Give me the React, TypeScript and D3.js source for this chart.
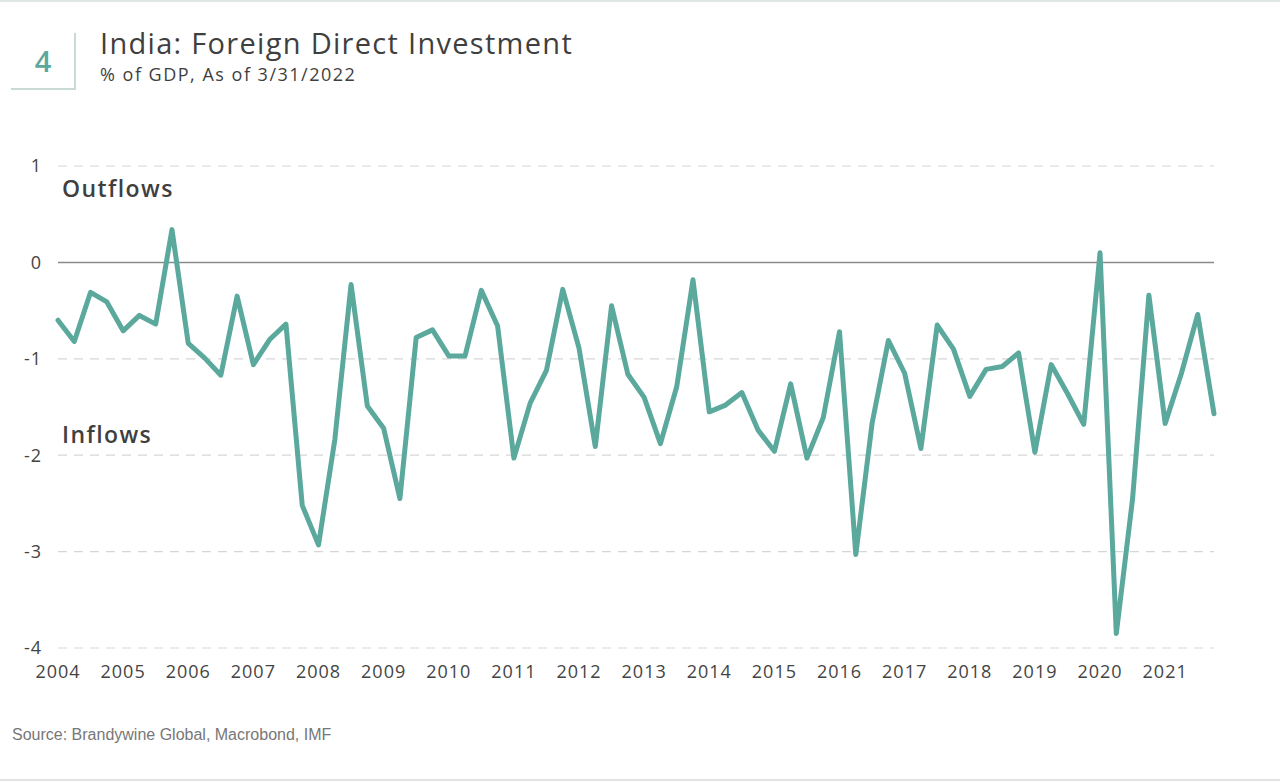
import React from "react";
import * as d3 from "d3";

const startYear = 2004;
const fdiValues: number[] = [
  -0.60, -0.82, -0.31, -0.41, -0.71, -0.55, -0.64, 0.34,
  -0.84, -0.99, -1.17, -0.35, -1.06, -0.80, -0.64, -2.52,
  -2.93, -1.84, -0.23, -1.49, -1.72, -2.45, -0.78, -0.70,
  -0.97, -0.97, -0.29, -0.66, -2.03, -1.46, -1.12, -0.28,
  -0.89, -1.91, -0.45, -1.16, -1.40, -1.88, -1.29, -0.18,
  -1.55, -1.48, -1.35, -1.74, -1.96, -1.26, -2.03, -1.61,
  -0.72, -3.03, -1.67, -0.81, -1.15, -1.93, -0.65, -0.90,
  -1.39, -1.11, -1.08, -0.94, -1.97, -1.06, -1.36, -1.68,
  0.10, -3.85, -2.45, -0.34, -1.67, -1.15, -0.54, -1.57,
];
const yTicks: number[] = [1, 0, -1, -2, -3, -4];
const yearTicks: number[] = d3.range(2004, 2022);

const W = 1280;
const H = 782;
const left = 58;
const right = 1214;
const top = 166;
const bottom = 648;

const TEAL = "#5ba89d";
const FONT = "'Open Sans', 'Noto Sans', sans-serif";

export default function App() {
  const data = fdiValues.map((v, i) => ({ t: startYear + i / 4, v }));
  const x = d3.scaleLinear().domain([startYear, startYear + (fdiValues.length - 1) / 4]).range([left, right]);
  const y = d3.scaleLinear().domain([1, -4]).range([top, bottom]);
  const line = d3.line<{ t: number; v: number }>().x((d) => x(d.t)).y((d) => y(d.v));

  return (
    <svg width={W} height={H} style={{ position: "absolute", left: 0, top: 0, background: "#fff" }}>
      <line x1={0} x2={W} y1={1} y2={1} stroke="#dfe6e4" strokeWidth={2} />
      <line x1={0} x2={W} y1={780} y2={780} stroke="#e2e2e2" strokeWidth={2} />
      {/* number box */}
      <line x1={75} x2={75} y1={33} y2={89} stroke="#c9d9d4" strokeWidth={2} />
      <line x1={11} x2={76} y1={89} y2={89} stroke="#c9d9d4" strokeWidth={2} />
      <text x={43} y={72} textAnchor="middle" fill={TEAL} fontFamily={FONT} fontSize={29} fontWeight={600}>4</text>
      <text x={100} y={54} fill="#3f3f3f" fontFamily={FONT} fontSize={29} fontWeight={500} letterSpacing={1.3}>India: Foreign Direct Investment</text>
      <text x={100} y={81} fill="#3f3f3f" fontFamily={FONT} fontSize={18} letterSpacing={1.5}>% of GDP, As of 3/31/2022</text>

      {yTicks.map((t) => (
        <g key={t}>
          <line
            x1={left}
            x2={right}
            y1={y(t)}
            y2={y(t)}
            stroke={t === 0 ? "#8a8a8a" : "#d6d6d6"}
            strokeWidth={t === 0 ? 1.5 : 1.2}
            strokeDasharray={t === 0 ? undefined : "9,7"}
          />
          <text x={42} y={y(t)} dy="0.35em" textAnchor="end" fill="#444" fontFamily={FONT} fontSize={18} letterSpacing={1}>
            {t}
          </text>
        </g>
      ))}

      {yearTicks.map((yr) => (
        <text key={yr} x={x(yr)} y={678} textAnchor="middle" fill="#444" fontFamily={FONT} fontSize={18} letterSpacing={1}>
          {yr}
        </text>
      ))}

      <text x={62} y={197} fill="#3f3f3f" fontFamily={FONT} fontSize={23} fontWeight={600} letterSpacing={1.4}>Outflows</text>
      <text x={62} y={443} fill="#3f3f3f" fontFamily={FONT} fontSize={23} fontWeight={600} letterSpacing={1.4}>Inflows</text>

      <path d={line(data) || ""} fill="none" stroke={TEAL} strokeWidth={5} strokeLinejoin="round" strokeLinecap="round" />

      <text x={12} y={740} fill="#777" fontFamily="'Liberation Sans Narrow', 'Arial Narrow', 'Liberation Sans', sans-serif" fontSize={16}>
        Source: Brandywine Global, Macrobond, IMF
      </text>
    </svg>
  );
}
